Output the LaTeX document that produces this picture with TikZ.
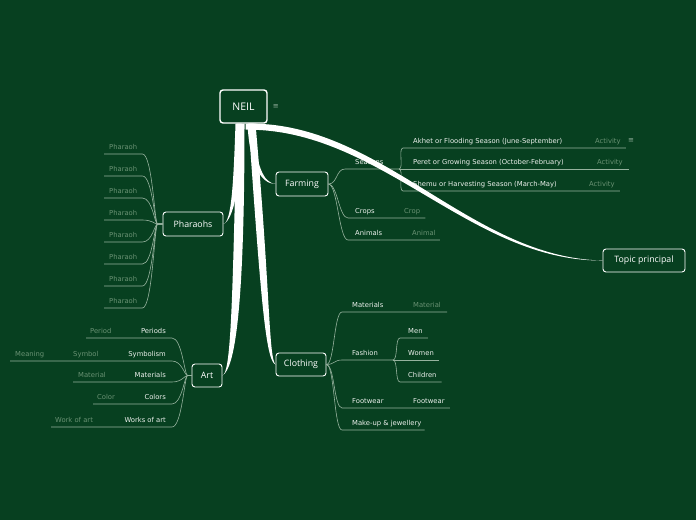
\documentclass[tikz,border=0pt]{standalone}
\usepackage{fontspec}
\setmainfont{DejaVu Sans}
\newfontfamily\topicfont{Open Sans}
\usetikzlibrary{positioning,backgrounds,calc}
\definecolor{board}{RGB}{7,64,32}
\definecolor{twigline}{RGB}{150,178,158}
\definecolor{leaftext}{RGB}{236,240,236}
\definecolor{dimtext}{RGB}{105,145,115}
\tikzset{
  topic/.style={draw=white,line width=0.9pt,rounded corners=3pt,fill=board,
            text=white,inner sep=0pt,font=\topicfont\fontsize{8.8}{10}\selectfont},
  root/.style={topic,line width=1.4pt,font=\topicfont\fontsize{10.5}{12}\selectfont},
  leaf/.style={text=leaftext,font=\fontsize{6.8}{8}\selectfont,inner xsep=0pt,
            inner ysep=4.5pt,text depth=0pt,anchor=south west},
  note/.style={leaf,text=dimtext},
  marker/.style={text=twigline,inner sep=0pt,font=\fontsize{7}{7}\selectfont},
  twig/.style={draw=twigline,line width=0.6pt},
  trunk/.style={fill=white},
}

\begin{document}
\begin{tikzpicture}[x=1pt,y=-1pt]
  \begin{scope}[on background layer]
    \fill[board] (0,0) rectangle (696,520);
  \end{scope}
  \useasboundingbox (0,0) rectangle (696,520);

  % main topics
  \node[root,minimum width=47,minimum height=33] (neil) at (243.5,106.5) {NEIL};
  \node[marker,right=5pt of neil] (neilmark) {≡};
  \node[topic,minimum width=52,minimum height=24] (farming) at (302,184) {Farming};
  \node[topic,minimum width=60,minimum height=24] (pharaohs) at (193,224) {Pharaohs};
  \node[topic,minimum width=30,minimum height=23] (art) at (207,375.5) {Art};
  \node[topic,minimum width=50,minimum height=23] (clothing) at (301,364.5) {Clothing};
  \node[topic,minimum width=82,minimum height=23] (topic) at (644,260.5) {Topic principal};

  % Farming
  \node[leaf] (seasons) at (355,169) {Seasons};
  \coordinate (seasonfork) at (399,169);
  \draw[twig] (farming.east) .. controls +(9,0) and +(-9,0) .. ([xshift=-10]seasons.south west) -- (seasonfork);
  \node[leaf] (akhet) at (413,148) {Akhet or Flooding Season (June-September)};
  \node[note] (akhetact) at (595,148) {Activity};
  \node[marker] (akhetmark) at (631,141) {≡};
  \draw[twig] (seasonfork) .. controls +(5,0) and +(-5,0) .. ([xshift=-10]akhet.south west) -- ([xshift=5]akhetact.south east);
  \node[leaf] (peret) at (413,169) {Peret or Growing Season (October-February)};
  \node[note] (peretact) at (597,169) {Activity};
  \draw[twig] (seasonfork) -- ([xshift=6]peretact.south east);
  \node[leaf] (shemu) at (413,191) {Shemu or Harvesting Season (March-May)};
  \node[note] (shemuact) at (589,191) {Activity};
  \draw[twig] (seasonfork) .. controls +(5,0) and +(-5,0) .. ([xshift=-10]shemu.south west) -- ([xshift=5]shemuact.south east);
  \node[leaf] (crops) at (355,218) {Crops};
  \node[note] (crop) at (404,218) {Crop};
  \draw[twig] (farming.east) .. controls +(9,0) and +(-9,0) .. ([xshift=-7]crops.south west) -- ([xshift=5]crop.south east);
  \node[leaf] (animals) at (355,240) {Animals};
  \node[note] (animal) at (412,240) {Animal};
  \draw[twig] (farming.east) .. controls +(9,0) and +(-9,0) .. ([xshift=-7]animals.south west) -- ([xshift=4]animal.south east);

  % Pharaohs
  \foreach \i/\u in {1/154,2/176,3/198,4/220,5/242,6/264,7/286,8/308} {
    \node[note] (ph\i) at (109,\u) {Pharaoh};
    \draw[twig] ([xshift=-5]ph\i.south west) -- ([xshift=5]ph\i.south east)
      .. controls +(10,0) and +(-3,0) .. ([xshift=-5]pharaohs.west) -- (pharaohs.west);
  }

  % Art
  \node[leaf,anchor=south east] (periods) at (166,338) {Periods};
  \node[note] (period) at (90,338) {Period};
  \draw[twig] ([xshift=-4]period.south west) -- ([xshift=6]periods.south east)
    .. controls +(10,0) and +(-3,0) .. ([xshift=-4]art.west) -- (art.west);
  \node[leaf,anchor=south east] (symbolism) at (166,361) {Symbolism};
  \node[note] (symbol) at (73,361) {Symbol};
  \node[note] (meaning) at (15,361) {Meaning};
  \draw[twig] ([xshift=-5]meaning.south west) -- ([xshift=6]symbolism.south east)
    .. controls +(10,0) and +(-3,0) .. ([xshift=-4]art.west) -- (art.west);
  \node[leaf,anchor=south east] (amaterials) at (166,382) {Materials};
  \node[note] (amaterial) at (78,382) {Material};
  \draw[twig] ([xshift=-5]amaterial.south west) -- ([xshift=6]amaterials.south east)
    .. controls +(10,0) and +(-3,0) .. ([xshift=-4]art.west) -- (art.west);
  \node[leaf,anchor=south east] (colors) at (166,404) {Colors};
  \node[note] (color) at (97,404) {Color};
  \draw[twig] ([xshift=-4]color.south west) -- ([xshift=6]colors.south east)
    .. controls +(10,0) and +(-3,0) .. ([xshift=-4]art.west) -- (art.west);
  \node[leaf,anchor=south east] (works) at (166,427) {Works of art};
  \node[note] (workofart) at (55,427) {Work of art};
  \draw[twig] ([xshift=-4]workofart.south west) -- ([xshift=6]works.south east)
    .. controls +(10,0) and +(-3,0) .. ([xshift=-4]art.west) -- (art.west);

  % Clothing
  \node[leaf] (cmaterials) at (352,312) {Materials};
  \node[note] (cmaterial) at (413,312) {Material};
  \draw[twig] (clothing.east) .. controls +(8,0) and +(-8,0) .. ([xshift=-10]cmaterials.south west) -- ([xshift=6]cmaterial.south east);
  \node[leaf] (fashion) at (352,360) {Fashion};
  \coordinate (fashionfork) at (393,360);
  \draw[twig] (clothing.east) .. controls +(8,0) and +(-8,0) .. ([xshift=-10]fashion.south west) -- (fashionfork);
  \node[leaf] (men) at (408,338) {Men};
  \draw[twig] (fashionfork) .. controls +(5,0) and +(-5,0) .. ([xshift=-8]men.south west) -- ([xshift=5]men.south east);
  \node[leaf] (women) at (408,360) {Women};
  \draw[twig] (fashionfork) -- ([xshift=5]women.south east);
  \node[leaf] (children) at (408,382) {Children};
  \draw[twig] (fashionfork) .. controls +(5,0) and +(-5,0) .. ([xshift=-8]children.south west) -- ([xshift=5]children.south east);
  \node[leaf] (footwear) at (352,408) {Footwear};
  \node[leaf] (footwearitem) at (413,408) {Footwear};
  \draw[twig] (clothing.east) .. controls +(8,0) and +(-8,0) .. ([xshift=-10]footwear.south west) -- ([xshift=5]footwearitem.south east);
  \node[leaf] (makeup) at (352,430) {Make-up \& jewellery};
  \draw[twig] (clothing.east) .. controls +(8,0) and +(-8,0) .. ([xshift=-10]makeup.south west) -- ([xshift=3]makeup.south east);

  % trunks from the root
  \fill[trunk] ([xshift=4]neil.south) .. controls +(2,42) and +(-14,0) .. (farming.west)
    .. controls +(-12,-1) and +(2,42) .. ([xshift=10]neil.south) -- cycle;
  \fill[trunk] ([xshift=-8]neil.south) .. controls +(-2,60) and +(8,-2) .. (pharaohs.east)
    .. controls +(10,-4) and +(0,60) .. ([xshift=-2]neil.south) -- cycle;
  \fill[trunk] ([xshift=-7]neil.south) .. controls +(-4,190) and +(8,-3) .. (art.east)
    .. controls +(12,-7) and +(0,190) .. ([xshift=1]neil.south) -- cycle;
  \fill[trunk] ([xshift=5]neil.south) .. controls +(12,170) and +(-10,-3) .. (clothing.west)
    .. controls +(-7,-7) and +(15,170) .. ([xshift=12]neil.south) -- cycle;
  \fill[trunk] ([xshift=2]neil.south) .. controls (380,120) and (470,258) .. (topic.west)
    .. controls (470,261.5) and (380,128) .. ([xshift=2,yshift=-6]neil.south) -- cycle;
\end{tikzpicture}
\end{document}
